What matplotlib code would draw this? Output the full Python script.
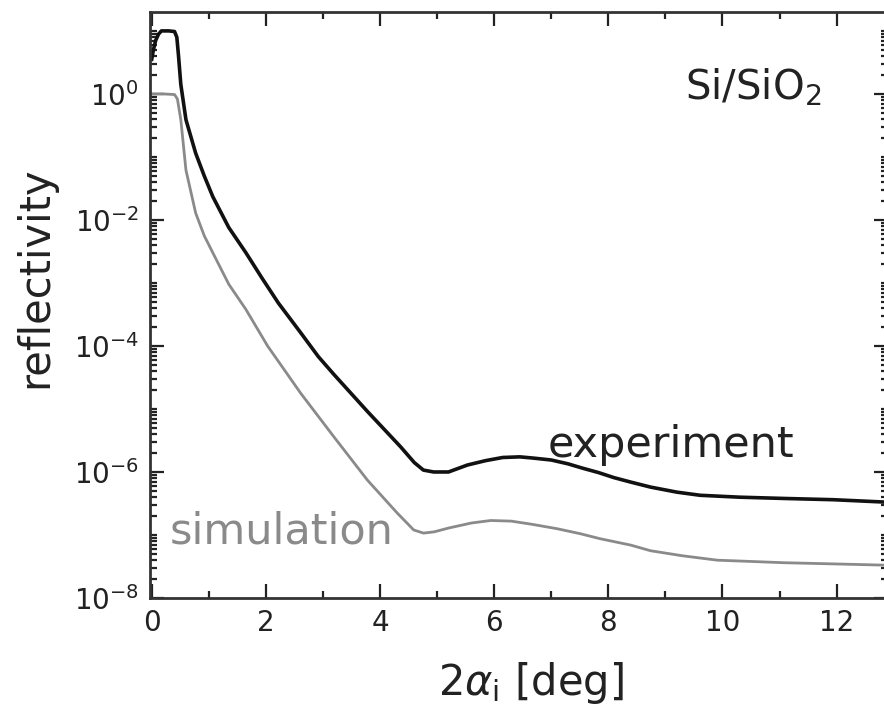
import numpy as np
import matplotlib
matplotlib.use("Agg")
import matplotlib.pyplot as plt
from matplotlib.ticker import LogLocator, FixedLocator, NullFormatter

# experiment: 2alpha_i [deg] vs log10(reflectivity)
exp_x = [0.0, 0.03, 0.07, 0.12, 0.17, 0.3, 0.4, 0.44, 0.47, 0.51, 0.6, 0.77, 0.92, 1.07, 1.35,
         1.65, 1.93, 2.22, 2.61, 2.92, 3.19, 3.78, 4.36, 4.6, 4.76, 4.94, 5.2, 5.53, 5.85, 6.15,
         6.45, 6.69, 7.0, 7.29, 7.55, 7.83, 8.1, 8.39, 8.74, 9.2, 9.61, 10.3, 11.07, 11.94, 12.9]
exp_log = [0.55, 0.7, 0.85, 0.95, 1.0, 1.0, 0.99, 0.9, 0.6, 0.15, -0.41, -0.94, -1.3, -1.63, -2.12,
           -2.52, -2.92, -3.32, -3.79, -4.17, -4.45, -5.04, -5.6, -5.85, -5.97, -6.0, -6.0, -5.89, -5.82, -5.77,
           -5.76, -5.78, -5.81, -5.87, -5.94, -6.01, -6.09, -6.16, -6.24, -6.32, -6.37, -6.4, -6.42, -6.44, -6.48]

# simulation
sim_x = [0.0, 0.2, 0.4, 0.45, 0.51, 0.6, 0.77, 0.92, 1.07, 1.35, 1.65, 2.03, 2.61, 3.19,
         3.78, 4.05, 4.3, 4.59, 4.76, 4.95, 5.2, 5.6, 5.94, 6.3, 6.66, 7.1, 7.51, 7.86,
         8.39, 8.74, 9.3, 9.91, 10.5, 11.07, 12.0, 12.9]
sim_log = [0.0, 0.0, -0.01, -0.08, -0.41, -1.21, -1.89, -2.25, -2.52, -3.02, -3.42, -4.0, -4.75, -5.44,
           -6.13, -6.4, -6.65, -6.92, -6.97, -6.95, -6.89, -6.81, -6.77, -6.78, -6.83, -6.9, -6.98, -7.06,
           -7.16, -7.25, -7.33, -7.4, -7.42, -7.44, -7.46, -7.48]

exp_y = [10 ** v for v in exp_log]
sim_y = [10 ** v for v in sim_log]

W, H = 884, 712
fig = plt.figure(figsize=(W / 100, H / 100), dpi=100)
left, right, top, bottom = 150, 888, 12, 598
ax = fig.add_axes([left / W, (H - bottom) / H, (right - left) / W, (bottom - top) / H])

ax.plot(exp_x, exp_y, color="#111111", lw=2.6, solid_joinstyle="round")
ax.plot(sim_x, sim_y, color="#8a8a8a", lw=2.0, solid_joinstyle="round")

ax.set_yscale("log")
ax.set_xlim(-0.03, 12.9)
ax.set_ylim(1e-8, 10 ** 1.3)

ax.xaxis.set_major_locator(FixedLocator([0, 2, 4, 6, 8, 10, 12]))
ax.xaxis.set_minor_locator(FixedLocator([1, 3, 5, 7, 9, 11]))
ax.yaxis.set_major_locator(FixedLocator([1e-8, 1e-6, 1e-4, 1e-2, 1e0]))
ax.yaxis.set_minor_locator(LogLocator(base=10, subs=np.arange(1, 10), numticks=50))
ax.yaxis.set_minor_formatter(NullFormatter())

ax.tick_params(which="both", direction="in", top=True, right=True, width=1.6, colors="#222222",
               labelsize=20, pad=8)
ax.tick_params(which="major", length=10)
ax.tick_params(which="minor", length=5)
for s in ax.spines.values():
    s.set_linewidth(2.0)
    s.set_color("#333333")

fig.text(531 / W, 1 - 683 / H, r"2$\alpha_{\rm i}$ [deg]", fontsize=30, color="#222222",
         ha="center", va="center")
fig.text(35 / W, 1 - 277 / H, "reflectivity", fontsize=30, color="#222222",
         ha="center", va="center", rotation=90)

ax.text(9.09, 10 ** -5.57, "experiment", fontsize=31, color="#222222", ha="center", va="center")
ax.text(2.28, 10 ** -6.95, "simulation", fontsize=31, color="#8a8a8a", ha="center", va="center")
ax.text(10.53, 10 ** 0.1, r"Si/SiO$_2$", fontsize=29, color="#222222", ha="center", va="center")

fig.savefig("out.png", dpi=100)
